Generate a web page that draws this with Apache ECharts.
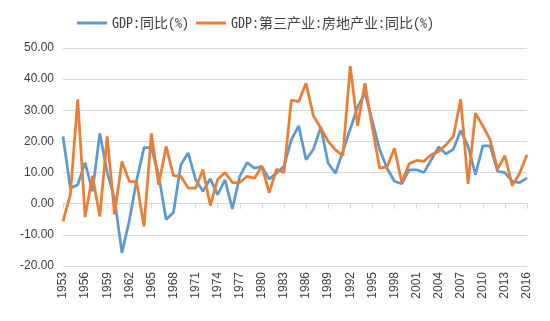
<!DOCTYPE html>
<html>
<head>
<meta charset="utf-8">
<script src="https://cdn.jsdelivr.net/npm/echarts@6/dist/echarts.min.js"></script>
<style>html,body{margin:0;padding:0;background:#fff;}#c{width:550px;height:321px;}</style>
</head>
<body>
<div id="c"></div>
<script>
var years = [];
for (var y = 1953; y <= 2016; y++) years.push(String(y));

var gdpYoY = [21.6,5.0,6.1,13.2,4.0,22.6,10.0,1.6,-15.8,-5.5,
  7.5,18.0,18.0,9.0,-5.1,-2.8,12.5,16.3,7.8,4.0,
  8.0,2.9,7.7,-1.7,8.8,13.2,11.4,12.0,7.9,9.8,
  12.0,20.5,25.0,14.1,17.5,24.6,13.0,9.8,16.8,24.0,
  31.0,35.5,26.5,17.3,11.4,7.2,6.4,10.9,10.9,10.0,
  14.1,18.2,16.0,17.5,23.5,18.4,9.3,18.6,18.6,10.4,
  10.0,7.2,6.8,8.2];

var realEstateYoY = [-5.7,2.9,33.5,-4.3,9.0,-4.1,21.6,-3.5,13.6,7.2,
  7.0,-7.3,22.6,6.1,18.4,9.0,8.8,5.0,5.0,10.9,
  -0.6,7.8,10.0,6.8,6.8,8.8,8.2,12.0,3.6,11.1,
  10.0,33.3,32.8,38.7,28.2,24.3,20.0,17.3,15.4,44.2,
  25.0,38.7,24.5,11.4,11.8,17.8,6.8,12.8,13.9,13.6,
  15.7,16.8,18.9,21.6,33.5,6.4,29.1,25.0,20.5,11.1,
  15.4,5.8,9.8,15.7];

var seriesNames = ['GDP:同比(%)', 'GDP:第三产业:房地产业:同比(%)'];

var chart = echarts.init(document.getElementById('c'), null, {renderer: 'canvas'});
chart.setOption({
  animation: false,
  backgroundColor: '#ffffff',
  color: ['#5B9BD5', '#ED7D31'],
  legend: {
    top: 11,
    left: 72,
    itemWidth: 30,
    itemHeight: 3,
    itemGap: 7,
    icon: 'rect',
    textStyle: {fontSize: 14, color: '#404040', fontFamily: '"Noto Sans Mono CJK SC", "DejaVu Sans Mono", "Noto Sans CJK SC", monospace'},
    data: seriesNames
  },
  grid: {left: 63, right: 23, top: 48, bottom: 55, containLabel: false},
  xAxis: [{
    type: 'category',
    data: years,
    boundaryGap: false,
    position: 'bottom',
    axisLine: {show: false, onZero: false},
    axisTick: {show: false},
    axisLabel: {rotate: 90, interval: 2, margin: 6, fontSize: 12, color: '#404040', fontFamily: '"Liberation Sans", Arial, sans-serif'},
    splitLine: {show: false}
  }, {
    type: 'category',
    data: years,
    boundaryGap: false,
    position: 'bottom',
    axisLine: {show: true, onZero: true, lineStyle: {color: '#D9D9D9', width: 1}},
    axisTick: {show: true, interval: 2, length: 5, lineStyle: {color: '#D9D9D9'}},
    axisLabel: {show: false},
    splitLine: {show: false}
  }],
  yAxis: {
    type: 'value',
    min: -20,
    max: 50,
    interval: 10,
    axisLine: {show: false},
    axisTick: {show: false},
    axisLabel: {
      margin: 9,
      fontSize: 12,
      color: '#404040',
      fontFamily: '"Liberation Sans", Arial, sans-serif',
      formatter: function (v) { return v.toFixed(2); }
    },
    splitLine: {lineStyle: {color: '#D9D9D9', width: 1}}
  },
  series: [{
    name: seriesNames[0],
    type: 'line',
    xAxisIndex: 0,
    data: gdpYoY,
    showSymbol: false,
    symbol: 'none',
    lineStyle: {width: 2.75, color: '#5B9BD5'},
    z: 2
  }, {
    name: seriesNames[1],
    type: 'line',
    xAxisIndex: 0,
    data: realEstateYoY,
    showSymbol: false,
    symbol: 'none',
    lineStyle: {width: 2.75, color: '#ED7D31'},
    z: 3
  }]
});
</script>
</body>
</html>
